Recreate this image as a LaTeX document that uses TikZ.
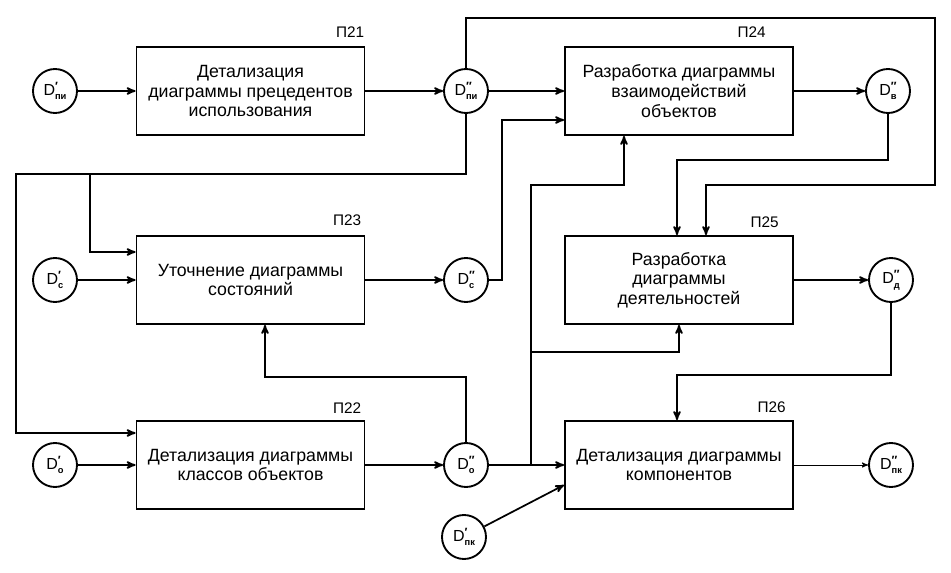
\documentclass[tikz,border=0pt]{standalone}
\usepackage{fontspec}
\setmainfont{Liberation Sans}
\usetikzlibrary{arrows}
\newcommand{\dn}[2]{D\makebox[0pt][l]{\raisebox{0.6ex}{\small\bfseries#1}}\raisebox{-0.55ex}{\scriptsize\bfseries#2}}

\begin{document}
\begin{tikzpicture}[x=0.75pt,y=-0.75pt]
			\tikzstyle{proc} = [
				draw, line width = 1.4pt, align = center,
				minimum width = 171pt, minimum height = 66pt,
				font = \fontsize{13.3}{14.8}\selectfont
			]
			\tikzstyle{data} = [
				circle, draw, line width = 1.4pt,
				inner sep = 0pt, minimum size = 33pt,
				font = \fontsize{12}{12}\selectfont
			]
			\tikzstyle{num} = [anchor = south east, inner sep = 0pt, font = \fontsize{11.5}{12}\selectfont]
			\tikzstyle{line} = [->, draw = black, >=stealth', line width = 1.3pt]
			\useasboundingbox (0,0) rectangle (951,573);
			% processes
			\node[proc] (p21) at (250.5,91) {Детализация\\диаграммы прецедентов\\использования};
			\node[proc] (p23) at (250.5,280) {Уточнение диаграммы\\состояний};
			\node[proc] (p22) at (250.5,465) {Детализация диаграммы\\классов объектов};
			\node[proc] (p24) at (679,91) {Разработка диаграммы\\взаимодействий\\объектов};
			\node[proc] (p25) at (679,280) {Разработка\\диаграммы\\деятельностей};
			\node[proc] (p26) at (679,465) {Детализация диаграммы\\компонентов};
			\node[num] (n21) at ([shift={(-1,-8)}]p21.north east) {П21};
			\node[num] (n23) at ([shift={(-4,-9)}]p23.north east) {П23};
			\node[num] (n22) at ([shift={(-4,-6)}]p22.north east) {П22};
			\node[num] (n24) at ([shift={(-28,-8)}]p24.north east) {П24};
			\node[num] (n25) at ([shift={(-15,-7)}]p25.north east) {П25};
			\node[num] (n26) at ([shift={(-8,-7)}]p26.north east) {П26};
			% data
			\node[data] (dpi1) at (55,91) {\dn{′}{пи}};
			\node[data] (dpi2) at (466,91) {\dn{″}{пи}};
			\node[data] (dc1) at (55,280) {\dn{′}{с}};
			\node[data] (dc2) at (466,280) {\dn{″}{с}};
			\node[data] (do1) at (55,465) {\dn{′}{о}};
			\node[data] (do2) at (466,465) {\dn{″}{о}};
			\node[data] (dpk1) at (464,537) {\dn{′}{пк}};
			\node[data] (dv2) at (888,91) {\dn{″}{в}};
			\node[data] (dd2) at (891,280) {\dn{″}{д}};
			\node[data] (dpk2) at (891,465) {\dn{″}{пк}};
			% bends
			\coordinate (top) at (935,18);
			\coordinate (ret) at (935,185);
			\coordinate (in25) at (706,185);
			\coordinate (v25) at (677,160);
			\coordinate (c24) at (502,120);
			\coordinate (bus) at (531,465);
			\coordinate (o24) at (624,185);
			\coordinate (o25) at (679,352);
			\coordinate (o23) at (265,377);
			\coordinate (busL) at (16,174);
			\coordinate (in22) at (90,433);
			\coordinate (in23) at (90,252);
			\coordinate (d26) at (677,375);
			\coordinate (in26) at (565,485);
			% flows
			\draw[line] (dpi1) -- (p21);
			\draw[line] (p21) -- (dpi2);
			\draw[line] (dpi2) -- (p24);
			\draw[line] (p24) -- (dv2);
			\draw[line] (dc1) -- (p23);
			\draw[line] (p23) -- (dc2);
			\draw[line] (p25) -- (dd2);
			\draw[line] (do1) -- (p22);
			\draw[line] (p22) -- (do2);
			\draw[line] (do2) -- (p26);
			\draw[line, line width = 0.7pt] (p26) -- (dpk2);
			\draw[line] (dpk1) -- (in26 -| p26.west);
			\draw[line] (dpi2.north) |- (top) -- (ret) -- (in25) -- (in25 |- p25.north);
			\draw[line] (dv2.south) |- (v25) -- (v25 |- p25.north);
			\draw[line] (dc2.east) -| (c24) -- (c24 -| p24.west);
			\draw[line] (bus) |- (o24) -- (o24 |- p24.south);
			\draw[line] (bus |- o25) -- (o25) -- (o25 |- p25.south);
			\draw[line] (do2.north) |- (o23) -- (o23 |- p23.south);
			\draw[line] (dpi2.south) |- (busL) |- (in22 -| p22.west);
			\draw[line] (busL -| in23) |- (in23 -| p23.west);
			\draw[line] (dd2.south) |- (d26) -- (d26 |- p26.north);
		\end{tikzpicture}
\end{document}
